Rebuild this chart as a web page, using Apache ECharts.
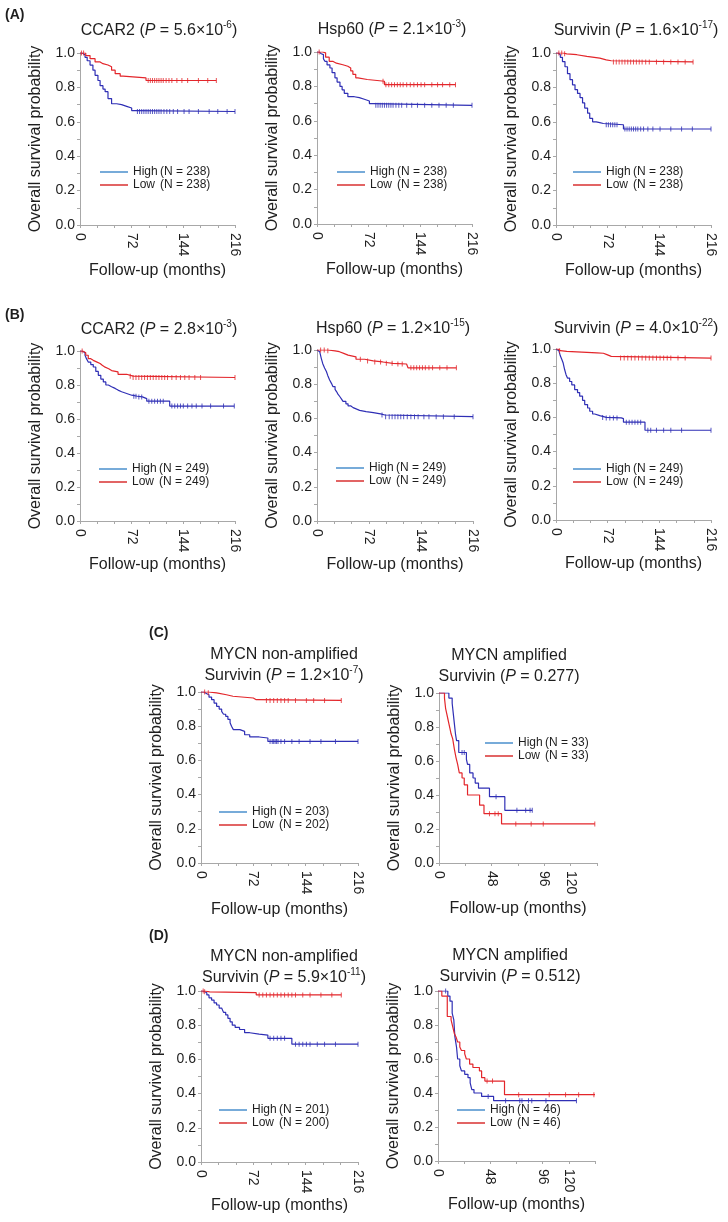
<!DOCTYPE html>
<html><head><meta charset="utf-8">
<script src="https://cdn.jsdelivr.net/npm/echarts@6/dist/echarts.min.js"></script>
<style>html,body{margin:0;padding:0;background:#fff}#c{width:728px;height:1222px}</style>
</head><body><div id="c"></div>
<script>
// ---------- DATA: Kaplan-Meier step points [month, survival] ----------
const A1_high = [[0,1],[3,0.99],[7,0.975],[10,0.955],[14,0.93],[18,0.9],[21,0.87],[25,0.84],[28,0.81],[32,0.79],[35,0.775],[39,0.735],[44,0.705],[51,0.70],[58,0.69],[65,0.68],[72,0.665],[77,0.66],[216,0.66]];
const A1_low  = [[0,1],[8,0.985],[14,0.967],[21,0.948],[28,0.938],[32,0.93],[39,0.92],[44,0.90],[49,0.88],[56,0.865],[60,0.855],[92,0.84],[190,0.84]];
const A2_high = [[0,1],[3,0.99],[6,0.985],[9,0.96],[11,0.946],[14,0.925],[18,0.907],[21,0.88],[25,0.85],[28,0.825],[32,0.80],[35,0.78],[38,0.76],[43,0.74],[52,0.735],[59,0.725],[66,0.715],[73,0.70],[78,0.69],[216,0.69]];
const A2_low  = [[0,1],[8,0.995],[12,0.97],[17,0.946],[22,0.935],[27,0.926],[36,0.917],[43,0.907],[47,0.89],[50,0.87],[54,0.85],[57,0.84],[70,0.83],[94,0.81],[193,0.81]];
const A3_high = [[0,1],[3,0.99],[6,0.975],[9,0.95],[12.5,0.92],[16,0.88],[19.5,0.845],[23,0.815],[26.5,0.787],[30,0.765],[33.5,0.74],[37,0.71],[40,0.68],[44,0.65],[47,0.62],[51,0.60],[56,0.595],[61,0.59],[66,0.583],[94,0.558],[216,0.558]];
const A3_low  = [[0,1],[10,0.995],[15,0.99],[29,0.98],[43,0.97],[61,0.96],[70,0.955],[77,0.948],[191,0.948]];
const B1_high = [[0,1],[3,0.99],[7,0.975],[9,0.955],[11.5,0.935],[15,0.92],[18.5,0.906],[22,0.88],[25.5,0.857],[29,0.835],[32.5,0.818],[36,0.80],[39.5,0.79],[44,0.78],[49,0.77],[53,0.76],[58,0.75],[65,0.74],[72,0.734],[80,0.73],[87,0.72],[93,0.705],[125,0.676],[215,0.676]];
const B1_low  = [[0,1],[4,0.99],[8,0.975],[11.5,0.955],[15,0.945],[18.5,0.936],[23,0.926],[28,0.916],[31,0.905],[35,0.896],[40,0.885],[44,0.877],[53,0.863],[65,0.852],[74,0.844],[216,0.844]];
const B2_high = [[0,1],[2,0.99],[3.7,0.98],[6,0.95],[8,0.92],[10.5,0.895],[13,0.874],[15,0.85],[17.5,0.825],[20,0.805],[22,0.786],[25,0.77],[27,0.757],[29,0.742],[31.5,0.728],[34,0.713],[36,0.70],[40,0.685],[43,0.673],[47,0.663],[50,0.654],[55,0.647],[59,0.64],[68,0.634],[78,0.626],[88,0.62],[94,0.61],[216,0.61]];
const B2_low  = [[0,1],[15,0.995],[25,0.99],[31,0.98],[37,0.97],[43,0.96],[54,0.946],[66,0.936],[78,0.93],[91,0.922],[105,0.918],[124,0.912],[126,0.896],[193,0.896]];
const B3_high = [[0,1],[2,0.99],[4,0.98],[6,0.96],[8,0.94],[10,0.918],[12,0.88],[14,0.85],[16,0.83],[19,0.81],[22,0.79],[26,0.763],[30,0.745],[33,0.724],[37,0.70],[40,0.675],[44,0.655],[47,0.636],[51,0.62],[54,0.61],[61,0.60],[70,0.597],[91,0.593],[94,0.572],[124,0.525],[216,0.525]];
const B3_low  = [[0,1],[3,0.99],[6,0.986],[15,0.977],[57,0.975],[66,0.967],[71,0.957],[77,0.947],[216,0.947]];
const C1_high = [[0,1],[4,0.99],[8,0.984],[11,0.97],[14.6,0.955],[18,0.935],[21.5,0.916],[25,0.90],[28.4,0.887],[31,0.87],[34,0.858],[37,0.84],[40,0.82],[42,0.80],[44.5,0.78],[53.5,0.77],[60,0.75],[67,0.737],[80,0.731],[92,0.711],[216,0.711]];
const C1_low  = [[0,1],[10,0.995],[21.5,0.984],[35,0.975],[44,0.965],[72,0.955],[76,0.951],[193,0.951]];
const C2_high = [[0,1],[9,0.97],[12,0.94],[13,0.88],[14,0.82],[15,0.76],[16,0.72],[18,0.65],[25,0.61],[26,0.58],[28,0.53],[31,0.50],[33,0.47],[36,0.44],[46,0.39],[60,0.31],[85,0.31]];
const C2_low  = [[0,1],[5,0.97],[6,0.91],[7,0.88],[8,0.85],[9,0.82],[10,0.79],[11,0.76],[12.5,0.73],[14,0.67],[15.5,0.62],[17,0.58],[18.5,0.53],[21,0.50],[23,0.46],[26,0.40],[37,0.34],[41,0.29],[57,0.23],[142,0.23]];
const D1_high = [[0,1],[3,0.99],[8,0.977],[11,0.96],[14.6,0.947],[18,0.93],[21.5,0.918],[25,0.90],[28.4,0.889],[31,0.875],[34,0.86],[37,0.84],[40,0.82],[43,0.80],[47,0.787],[53,0.775],[60,0.756],[67,0.748],[80,0.742],[92,0.723],[125,0.689],[216,0.689]];
const D1_low  = [[0,1],[5,0.995],[12,0.99],[76,0.977],[193,0.977]];
const D2_high = [[0,1],[9,0.97],[11,0.94],[13,0.87],[14.5,0.83],[15.5,0.73],[17,0.67],[18,0.60],[20,0.56],[21.5,0.53],[24.5,0.51],[27.5,0.49],[29.5,0.46],[31,0.42],[33,0.40],[40,0.38],[51,0.355],[127,0.355]];
const D2_low  = [[0,1],[3.5,0.97],[8.5,0.85],[12,0.83],[13.5,0.79],[15,0.75],[16.5,0.73],[18,0.70],[20,0.67],[21.5,0.65],[24.5,0.63],[26,0.60],[29,0.57],[32,0.55],[38,0.53],[40,0.49],[43,0.47],[61,0.39],[144,0.39]];

// censoring times (months)
const A1_highCens = [80,83,86,89,92,95,98,101,104,107,110,113,117,121,125,130,136,145,152,165,180,192,205,216];
const A1_lowCens  = [2,5,95,98,101,104,107,110,113,116,120,124,128,135,142,150,165,178,190];
const A2_highCens = [82,85,88,91,94,97,100,103,106,110,114,118,125,132,140,150,160,170,180,190,216];
const A2_lowCens  = [3,92,96,100,104,108,112,116,120,125,130,135,140,145,150,160,168,175,185,193];
const A3_highCens = [70,73,76,79,82,85,96,99,102,105,108,111,114,118,122,128,135,145,160,175,190,216];
const A3_lowCens  = [4,8,12,80,84,88,92,96,100,104,108,112,116,120,125,130,140,150,160,170,180,191];
const B1_highCens = [75,78,82,86,96,100,104,108,112,116,128,132,136,140,144,150,156,162,170,182,200,215];
const B1_lowCens  = [3,70,74,78,82,86,90,94,98,102,106,110,114,118,122,128,134,140,146,152,160,168,216];
const B2_highCens = [90,95,100,104,108,112,116,120,125,130,135,140,148,155,165,175,190,216];
const B2_lowCens  = [5,10,15,60,70,80,88,96,104,112,118,130,134,138,142,146,150,155,160,170,180,193];
const B3_highCens = [65,70,75,80,85,98,102,106,110,114,118,128,132,140,150,160,175,216];
const B3_lowCens  = [5,90,95,100,105,110,115,120,125,130,135,140,145,150,155,160,170,180,216];
const C1_highCens = [95,98,100,102,104,106,110,115,125,135,150,165,185,216];
const C1_lowCens  = [5,10,90,95,100,105,110,115,120,130,145,155,170,193];
const C2_highCens = [21,23,52,71,79,83,85];
const C2_lowCens  = [46,51,54,70,84,95,142];
const D1_highCens = [95,100,105,110,115,130,135,140,145,150,160,170,185,216];
const D1_lowCens  = [3,5,80,85,90,95,100,105,110,115,120,125,130,140,150,165,180,193];
const D2_highCens = [7,46,62,75,77,83,86,99,127];
const D2_lowCens  = [45,50,74,102,117,129,143];

// group sizes
const nHigh = [238,238,238,249,249,249,203,33,201,46];
const nLow  = [238,238,238,249,249,249,202,33,200,46];

// titles
const titleLine1 = ['', '', '', '', '', '', 'MYCN non-amplified', 'MYCN amplified', 'MYCN non-amplified', 'MYCN amplified'];
const gene = ['CCAR2','Hsp60','Survivin','CCAR2','Hsp60','Survivin','Survivin','Survivin','Survivin','Survivin'];
const pMant = ['5.6','2.1','1.6','2.8','1.2','4.0','1.2','0.277','5.9','0.512'];
const pExp  = ['-6','-3','-17','-3','-15','-22','-7','','-11',''];
const panelLetters = ['(A)','(B)','(C)','(D)'];

// tick labels
const xLabels216 = [0,72,144,216];
const xLabels144 = [0,48,96,120];
const yLabels = [0.0,0.2,0.4,0.6,0.8,1.0];

// ---------- LAYOUT ----------
const FONT = 'Liberation Sans, Arial, Helvetica, sans-serif';
const layout = [
  {g:[80,53,155,172],  max:216, lg:[100,166], t:[159,31],   ng:38},
  {g:[317,52,155,172], max:216, lg:[337,166], t:[392,30],   ng:38},
  {g:[556,53,155,172], max:216, lg:[573,166], t:[636,31],   ng:38},
  {g:[80,351,155,170], max:216, lg:[99,463],  t:[159,330],  ng:36},
  {g:[317,350,156,171],max:216, lg:[336,462], t:[393,329],  ng:36},
  {g:[556,349,155,171],max:216, lg:[573,463], t:[636,329],  ng:36},
  {g:[201,692,157,171],max:216, lg:[219,806], t:[284,665],  ng:39},
  {g:[439,693,158,170],max:144, lg:[485,737], t:[509,666],  ng:38},
  {g:[201,991,157,171],max:216, lg:[219,1104],t:[284,967],  ng:36},
  {g:[438,991,157,170],max:144, lg:[457,1104],t:[510,966],  ng:36}
];
const letterPos = [[5,15],[5,315],[149,633],[149,936]];

const curves = [
  [A1_high,A1_low,A1_highCens,A1_lowCens],
  [A2_high,A2_low,A2_highCens,A2_lowCens],
  [A3_high,A3_low,A3_highCens,A3_lowCens],
  [B1_high,B1_low,B1_highCens,B1_lowCens],
  [B2_high,B2_low,B2_highCens,B2_lowCens],
  [B3_high,B3_low,B3_highCens,B3_lowCens],
  [C1_high,C1_low,C1_highCens,C1_lowCens],
  [C2_high,C2_low,C2_highCens,C2_lowCens],
  [D1_high,D1_low,D1_highCens,D1_lowCens],
  [D2_high,D2_low,D2_highCens,D2_lowCens]
];

const BLUE='#2f2fb5', RED='#e3262b', BLUE_LG='#4a8fcc', RED_LG='#d93030';
const TXT='#1e1e1e', AX='#a8a8a8';

function survAt(curve, t){ let s=curve[0][1]; for(const p of curve){ if(p[0]<=t) s=p[1]; } return s; }

const grid=[], xAxis=[], yAxis=[], series=[], legend=[], title=[];
layout.forEach((L,i)=>{
  const [hi,lo,hc,lc]=curves[i];
  grid.push({left:L.g[0],top:L.g[1],width:L.g[2],height:L.g[3],outerBoundsMode:'none',containLabel:false});
  const labs = L.max===216 ? xLabels216 : xLabels144;
  xAxis.push({gridIndex:i,type:'value',min:0,max:L.max,interval:24,
    axisLine:{show:true,lineStyle:{color:AX,width:1}},
    axisTick:{show:true,length:3,lineStyle:{color:AX}},
    splitLine:{show:false},
    axisLabel:{rotate:-90,fontSize:14,fontFamily:FONT,color:TXT,margin:8,
      formatter:v=>labs.indexOf(Math.round(v))>=0?String(Math.round(v)):''},
    name:'Follow-up (months)',nameLocation:'middle',nameGap:L.ng,
    nameTextStyle:{fontSize:16,fontFamily:FONT,color:TXT}});
  yAxis.push({gridIndex:i,type:'value',min:0,max:1,interval:0.1,
    axisLine:{show:true,lineStyle:{color:AX,width:1}},
    axisTick:{show:true,length:3,lineStyle:{color:AX}},
    splitLine:{show:false},
    axisLabel:{fontSize:14,fontFamily:FONT,color:TXT,margin:5,
      formatter:v=>{const r=Math.round(v*10)/10; return yLabels.some(y=>Math.abs(y-r)<1e-9)?r.toFixed(1):'';}},
    name:'Overall survival probability',nameLocation:'middle',nameGap:36,
    nameTextStyle:{fontSize:16,fontFamily:FONT,color:TXT}});
  const hName='High (N = '+nHigh[i]+')', lName='Low (N = '+nLow[i]+')';
  series.push({type:'line',name:hName,xAxisIndex:i,yAxisIndex:i,step:'end',showSymbol:false,symbol:'none',
    data:hi,lineStyle:{color:BLUE,width:1.2},itemStyle:{color:BLUE},silent:true,animation:false,z:3});
  series.push({type:'line',name:lName,xAxisIndex:i,yAxisIndex:i,step:'end',showSymbol:false,symbol:'none',
    data:lo,lineStyle:{color:RED,width:1.2},itemStyle:{color:RED},silent:true,animation:false,z:3});
  series.push({type:'scatter',name:hName,xAxisIndex:i,yAxisIndex:i,symbol:'rect',symbolSize:[1,5],
    data:hc.map(t=>[t,survAt(hi,t)]),itemStyle:{color:BLUE},silent:true,animation:false,z:4});
  series.push({type:'scatter',name:lName,xAxisIndex:i,yAxisIndex:i,symbol:'rect',symbolSize:[1,5],
    data:lc.map(t=>[t,survAt(lo,t)]),itemStyle:{color:RED},silent:true,animation:false,z:4});
  legend.push({orient:'vertical',left:L.lg[0],top:L.lg[1],padding:0,itemGap:1,itemWidth:28,itemHeight:1.5,
    icon:'rect',selectedMode:false,
    data:[{name:hName,itemStyle:{color:BLUE_LG}},{name:lName,itemStyle:{color:RED_LG}}],
    formatter:n=>{const k=n.indexOf(' ('); return '{a|'+n.slice(0,k)+'}{b|'+n.slice(k+1)+'}';},
    textStyle:{fontSize:12,fontFamily:FONT,color:TXT,
      rich:{a:{width:27,fontSize:12,fontFamily:FONT,color:TXT},b:{fontSize:12,fontFamily:FONT,color:TXT}}}});
  let txt = gene[i]+' ({i|P} = '+pMant[i];
  if(pExp[i]) txt += '×10{s|'+pExp[i]+'}';
  txt += ')';
  if(titleLine1[i]) txt = titleLine1[i]+'\n'+txt;
  title.push({text:txt,left:L.t[0],top:L.t[1],textAlign:'center',textVerticalAlign:'middle',padding:0,
    textStyle:{fontSize:16,fontWeight:'normal',fontFamily:FONT,color:TXT,lineHeight:21,
      rich:{i:{fontStyle:'italic',fontSize:16,fontFamily:FONT,color:TXT,lineHeight:21},
            s:{fontSize:10,fontFamily:FONT,color:TXT,verticalAlign:'top',lineHeight:12}}}});
});
panelLetters.forEach((s,k)=>{
  title.push({text:s,left:letterPos[k][0],top:letterPos[k][1],textVerticalAlign:'middle',textAlign:'left',padding:0,
    textStyle:{fontSize:14,fontWeight:'bold',fontFamily:FONT,color:TXT}});
});

const chart = echarts.init(document.getElementById('c'),null,{renderer:'canvas'});
chart.setOption({backgroundColor:'#fff',animation:false,title,grid,xAxis,yAxis,legend,series});
</script></body></html>
